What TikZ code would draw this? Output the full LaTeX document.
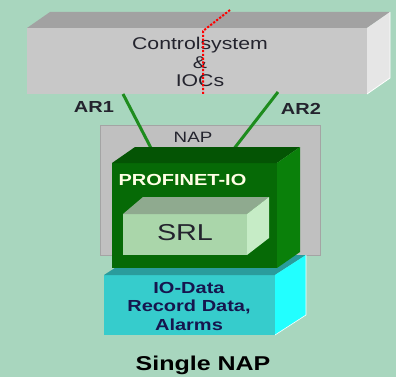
\documentclass[tikz,border=0pt]{standalone}
\usepackage{fontspec}
\setmainfont{Liberation Sans}[FakeStretch=1.25]
\usetikzlibrary{calc}

\definecolor{bg}{HTML}{A8D6BE}
\definecolor{ctrlfront}{HTML}{C8C8C8}
\definecolor{ctrltop}{HTML}{A2A2A2}
\definecolor{ctrlside}{HTML}{E6E6E6}
\definecolor{napgray}{HTML}{C0C0C0}
\definecolor{napedge}{HTML}{A4A4A4}
\definecolor{pnfront}{HTML}{066A06}
\definecolor{pntop}{HTML}{045404}
\definecolor{pnside}{HTML}{0A800A}
\definecolor{srlfront}{HTML}{AAD6AA}
\definecolor{srltop}{HTML}{8FAA8F}
\definecolor{srlside}{HTML}{C6ECC6}
\definecolor{cyfront}{HTML}{36CCCC}
\definecolor{cytop}{HTML}{2A9C9C}
\definecolor{cyside}{HTML}{22FFFF}
\definecolor{arline}{HTML}{1E8C1E}
\definecolor{txtdark}{HTML}{24242E}
\definecolor{txtnavy}{HTML}{16164E}
\definecolor{txtlight}{HTML}{FFFFE4}

\tikzset{
  face/.style={inner sep=0pt, outer sep=0pt, draw=none},
  ctrltext/.style={font=\fontsize{17}{18.5}\selectfont, text=txtdark, align=center},
  artext/.style={font=\bfseries\fontsize{16}{18}\selectfont, text=txtdark},
  naptext/.style={font=\fontsize{15}{17}\selectfont, text=txtdark},
  pntext/.style={font=\bfseries\fontsize{16}{18}\selectfont, text=txtlight},
  srltext/.style={font=\fontsize{23}{25}\selectfont, text=txtdark},
  cytext/.style={font=\bfseries\fontsize{16}{18.5}\selectfont, text=txtnavy, align=center},
  titletext/.style={font=\bfseries\fontsize{20}{22}\selectfont, text=black},
  arlink/.style={draw=arline, line width=3pt},
  cutline/.style={draw=red, line width=2pt, dash pattern=on 2.2pt off 1.6pt},
}

\begin{document}
\begin{tikzpicture}[x=1pt, y=-1pt]
  \fill[bg] (0,0) rectangle (396,377);
  \useasboundingbox (0,0) rectangle (396,377);

  % control system block
  \node[face, fill=ctrlfront, minimum width=340pt, minimum height=66pt] (ctrl) at (197,61) {};
  \fill[ctrltop] (ctrl.north west) -- ++(23,-16) -- ($(ctrl.north east)+(23,-16)$) -- (ctrl.north east) -- cycle;
  \fill[ctrlside] (ctrl.north east) -- ++(23,-16) -- ($(ctrl.south east)+(23,-16)$) -- (ctrl.south east) -- cycle;
  \draw[white, line width=0.8pt] ($(ctrl.north east)+(23,-16)$) -- ($(ctrl.south east)+(23,-16)$) -- (ctrl.south east);
  \node[ctrltext] (ctrllabel) at (200,62) {Controlsystem\\\&\\IOCs};

  % redundancy cut
  \coordinate (cutA) at (230,10);
  \coordinate (cutB) at (203,31);
  \coordinate (cutC) at (203,95);
  \draw[cutline] (cutA) -- (cutB) -- (cutC);

  % network access point frame
  \node[face, fill=napgray, draw=napedge, line width=0.6pt, minimum width=220pt, minimum height=130pt] (nap) at (210,190) {};
  \node[naptext] (naplabel) at (193,137) {NAP};

  % application relations
  \coordinate (ar1top) at (123,94);
  \coordinate (ar1bot) at (152,150);
  \coordinate (ar2top) at (278,92);
  \coordinate (ar2bot) at (233,150);
  \draw[arlink] (ar1top) -- (ar1bot);
  \draw[arlink] (ar2top) -- (ar2bot);
  \node[artext] (ar1) at (94,107) {AR1};
  \node[artext] (ar2) at (301,109) {AR2};

  % data block
  \node[face, fill=cyfront, minimum width=171pt, minimum height=60pt] (data) at (189.5,305) {};
  \fill[cytop] (data.north west) -- ++(31,-20) -- ($(data.north east)+(31,-20)$) -- (data.north east) -- cycle;
  \fill[cyside] (data.north east) -- ++(31,-20) -- ($(data.south east)+(31,-20)$) -- (data.south east) -- cycle;
  \draw[white, line width=0.6pt] ($(data.north east)+(31,-20)$) -- ($(data.south east)+(31,-20)$) -- (data.south east);
  \node[cytext] (datalabel) at (189,306) {IO-Data\\Record Data,\\Alarms};

  % PROFINET-IO block
  \node[face, fill=pnfront, minimum width=165pt, minimum height=105pt] (pn) at (194.5,215.5) {};
  \fill[pntop] (pn.north west) -- ++(23,-16) -- ($(pn.north east)+(23,-16)$) -- (pn.north east) -- cycle;
  \fill[pnside] (pn.north east) -- ++(23,-16) -- ($(pn.south east)+(23,-16)$) -- (pn.south east) -- cycle;
  \node[pntext, anchor=west] (pnlabel) at (115,180) {PROFINET-IO};

  % SRL block
  \node[face, fill=srlfront, minimum width=124pt, minimum height=41pt] (srl) at (185,234.5) {};
  \fill[srltop] (srl.north west) -- ++(20,-17) -- ($(srl.north east)+(22,-17)$) -- (srl.north east) -- cycle;
  \fill[srlside] (srl.north east) -- ++(22,-17) -- ($(srl.south east)+(22,-17)$) -- (srl.south east) -- cycle;
  \node[srltext] (srllabel) at (185,233) {SRL};

  % caption
  \node[titletext] (caption) at (203,365) {Single NAP};
\end{tikzpicture}
\end{document}
